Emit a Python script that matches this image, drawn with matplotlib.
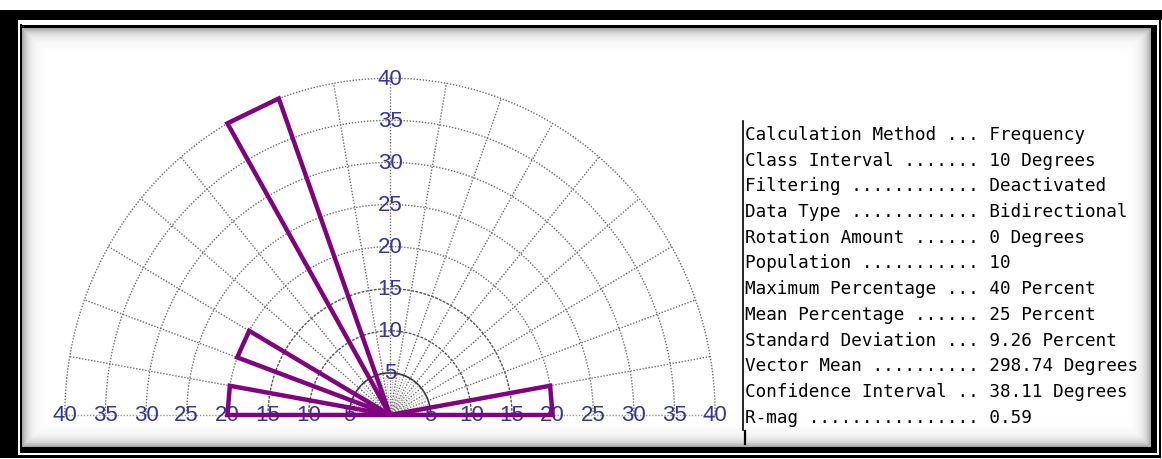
import numpy as np
import matplotlib
matplotlib.use("Agg")
import matplotlib.pyplot as plt
from matplotlib.patches import Rectangle

# ── rose diagram data (upper half, 10 degree classes) ──
CLASS_WIDTH = 10
petal_start = [0, 110, 150, 170]      # degrees, counter-clockwise from east
petal_pct = [20, 40, 20, 20]          # percent
ring_values = [5, 10, 15, 20, 25, 30, 35, 40]
spoke_angles = list(range(10, 180, 10))

# ── summary statistics ──
stat_names = [
    "Calculation Method", "Class Interval", "Filtering", "Data Type",
    "Rotation Amount", "Population", "Maximum Percentage", "Mean Percentage",
    "Standard Deviation", "Vector Mean", "Confidence Interval", "R-mag",
]
stat_values = [
    "Frequency", "10 Degrees", "Deactivated", "Bidirectional",
    "0 Degrees", "10", "40 Percent", "25 Percent",
    "9.26 Percent", "298.74 Degrees", "38.11 Degrees", "0.59",
]

PURPLE = "#800080"
LABEL_BLUE = "#34349c"
GRID = "#707070"
W, H = 1162, 460

fig = plt.figure(figsize=(W / 100, H / 100), dpi=100)
fig.patch.set_facecolor("white")

# background layer in pixel coordinates: window frame with soft shading
bg = fig.add_axes([0, 0, 1, 1])
bg.set_xlim(0, W)
bg.set_ylim(H, 0)
bg.axis("off")

yy, xx = np.mgrid[0:H, 0:W] + 0.5
d = np.minimum.reduce([xx - 22, 1151 - xx, yy - 29, 448 - yy])
shade = np.where(d >= 0, 1 - 0.38 * np.exp(-np.clip(d, 0, None) / 6.0), 1.0)
bg.imshow(shade, cmap="gray", vmin=0, vmax=1, extent=(0, W, H, 0),
          interpolation="bilinear", zorder=0)

frame = [
    (0, 11, 18, 447), (0, 11, 1162, 10), (1159, 11, 2, 448), (0, 456, 1161, 3),
    (20, 25, 2, 429), (20, 26, 1137, 3), (1151, 26, 6, 428), (20, 448, 1137, 6),
]
for x, y, w, h in frame:
    bg.add_patch(Rectangle((x, y), w, h, facecolor="black", edgecolor="none", zorder=2))

# ── rose diagram ──
cx, cy = 390, 416            # centre in pixels (from top)
sx, sy = 8.13, 8.42          # pixels per percent
x0, x1, y0, y1 = -45, 45, -5, 45
ax = fig.add_axes([(cx + x0 * sx) / W, (H - cy + y0 * sy) / H,
                   (x1 - x0) * sx / W, (y1 - y0) * sy / H])
ax.set_xlim(x0, x1)
ax.set_ylim(y0, y1)
ax.axis("off")
ax.patch.set_alpha(0)

rmax = ring_values[-1]
t = np.radians(np.linspace(0, 180, 361))
for r in ring_values:
    if r == 5:
        ax.plot(r * np.cos(t), r * np.sin(t), color="#333333", lw=1.2, zorder=1)
    elif r in (10, 15):
        ax.plot(r * np.cos(t), r * np.sin(t), color="#555555", lw=1.0,
                ls=(0, (2, 1.0)), zorder=1)
    else:
        ax.plot(r * np.cos(t), r * np.sin(t), color=GRID, lw=1.0,
                ls=(0, (1, 1.2)), zorder=1)

for a in spoke_angles:
    ar = np.radians(a)
    ax.plot([0, rmax * np.cos(ar)], [0, rmax * np.sin(ar)], color=GRID,
            lw=1.0, ls=(0, (1, 1.2)), zorder=1)
# finer spokes inside the first ring
for a in range(5, 180, 10):
    ar = np.radians(a)
    ax.plot([0, 5 * np.cos(ar)], [0, 5 * np.sin(ar)], color="#999999",
            lw=0.7, ls=(0, (1, 1.2)), zorder=1)
ax.plot([-rmax, rmax], [0, 0], color="#999999", lw=1.0, ls=(0, (1, 1.2)), zorder=1)

lab_font = dict(family=["Liberation Sans", "DejaVu Sans"], fontsize=16,
                color=LABEL_BLUE, ha="center", va="center", zorder=3)
for r in ring_values:
    ax.text(r, 0, str(r), **lab_font)
    ax.text(-r, 0, str(r), **lab_font)
    ax.text(0, r, str(r), **lab_font)

for a, p in zip(petal_start, petal_pct):
    t1, t2 = np.radians(a), np.radians(a + CLASS_WIDTH)
    px = [0, p * np.cos(t1), p * np.cos(t2)]
    py = [0, p * np.sin(t1), p * np.sin(t2)]
    ax.fill(px, py, facecolor="none", edgecolor=PURPLE, lw=3.2,
            joinstyle="miter", zorder=4)

# ── statistics panel ──
col = max(len(n) for n in stat_names) + 4
text_x, first_y, step = 745, 135, 25.7
for i, (n, v) in enumerate(zip(stat_names, stat_values)):
    line = (n + " ").ljust(col - 1, ".") + " " + v
    bg.text(text_x, first_y + i * step, line, family="DejaVu Sans Mono",
            fontsize=12.7, color="black", ha="left", va="center", zorder=3)
bg.plot([742.5, 742.5], [122, 431], color="black", lw=1.2, zorder=3)
bg.plot([744.5, 744.5], [432, 445], color="black", lw=1.6, zorder=3)

fig.savefig("out.png", dpi=100)
